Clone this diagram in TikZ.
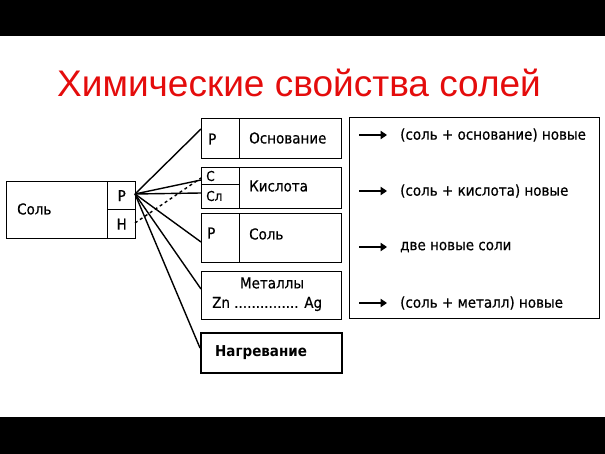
\documentclass[tikz,border=0pt]{standalone}
\usepackage{fontspec}
\setmainfont{DejaVu Sans Condensed}[FakeBold=0.6]
\newfontfamily\boldfont{DejaVu Sans Condensed Bold}
\newfontfamily\titlefont{Liberation Sans}
\usetikzlibrary{arrows.meta}
\definecolor{titlered}{RGB}{228,12,12}
\begin{document}
\begin{tikzpicture}[x=1pt,y=-1pt,
  box/.style={draw, line width=1.4pt, rectangle, inner sep=0pt, anchor=north west},
  lbl/.style={font=\fontsize{15}{17}\selectfont, inner sep=0pt, anchor=west},
  link/.style={line width=1.4pt},
  arr/.style={line width=1.2pt, -{Triangle[length=6.5pt,width=8.5pt]}},
]
\useasboundingbox (0,0) rectangle (605,454);
\fill[black] (0,0) rectangle (605,36);
\fill[black] (0,417) rectangle (605,454);
\node[font=\titlefont\fontsize{37}{40}\selectfont, text=titlered, anchor=base, inner sep=0pt] (title) at (299,97) {Химические свойства солей};

% left salt box
\node[box, minimum width=101pt, minimum height=57pt] (salt) at (6,181) {};
\node[box, minimum width=28pt, minimum height=28pt] (sp) at (107,181) {};
\node[box, minimum width=28pt, minimum height=29pt] (sh) at (107,209) {};
\node[lbl] (saltt) at (17,209) {Соль};
\node[lbl, anchor=center] (spt) at (sp.center) {Р};
\node[lbl, anchor=center] (sht) at (sh.center) {Н};

% box 1
\node[box, minimum width=140pt, minimum height=40pt] (b1) at (201,118) {};
\node[box, minimum width=38pt, minimum height=40pt] (b1l) at (201,118) {};
\node[lbl] (b1p) at (208,139) {Р};
\node[lbl] (b1t) at (249,138) {Основание};

% box 2
\node[box, minimum width=140pt, minimum height=41pt] (b2) at (201,167) {};
\node[box, minimum width=38pt, minimum height=17pt] (b2a) at (201,167) {};
\node[box, minimum width=38pt, minimum height=24pt] (b2b) at (201,184) {};
\node[lbl, font=\fontsize{13.5}{15}\selectfont] (b2at) at (206,176) {С};
\node[lbl, font=\fontsize{13.5}{15}\selectfont] (b2bt) at (206,196) {Сл};
\node[lbl] (b2t) at (249,186) {Кислота};

% box 3
\node[box, minimum width=140pt, minimum height=49pt] (b3) at (201,213) {};
\node[box, minimum width=38pt, minimum height=49pt] (b3l) at (201,213) {};
\node[lbl] (b3p) at (207,233) {Р};
\node[lbl] (b3t) at (249,234) {Соль};

% box 4
\node[box, minimum width=140pt, minimum height=48pt] (b4) at (201,271) {};
\node[lbl, anchor=center] (b4t) at (272,283) {Металлы};
\node[lbl] (b4z) at (212,304) {Zn ............... Ag};

% box 5
\node[box, line width=2pt, minimum width=141pt, minimum height=40pt] (b5) at (200,332) {};
\node[lbl, font=\boldfont\fontsize{15}{17}\selectfont] (b5t) at (215,353) {Нагревание};

% right box
\node[box, minimum width=250pt, minimum height=201pt] (res) at (349,117) {};
\coordinate (a1s) at (359,135); \coordinate (a1e) at (387,135);
\coordinate (a2s) at (359,191); \coordinate (a2e) at (387,191);
\coordinate (a3s) at (359,247); \coordinate (a3e) at (387,247);
\coordinate (a4s) at (359,303); \coordinate (a4e) at (387,303);
\draw[arr] (a1s) -- (a1e);
\draw[arr] (a2s) -- (a2e);
\draw[arr] (a3s) -- (a3e);
\draw[arr] (a4s) -- (a4e);
\node[lbl] (r1) at (400,135) {(соль + основание) новые};
\node[lbl] (r2) at (400,191) {(соль + кислота) новые};
\node[lbl] (r3) at (400,247) {две новые соли};
\node[lbl] (r4) at (400,303) {(соль + металл) новые};

% fan connectors
\coordinate (fan) at (135,194);
\coordinate (hd) at (135,223);
\coordinate (e1) at (201,129);
\coordinate (e2a) at (201,180);
\coordinate (e2b) at (201,193);
\coordinate (e2d) at (201,178);
\coordinate (e3) at (201,242);
\coordinate (e4) at (201,289);
\coordinate (e5) at (200,348);
\draw[link] (fan) -- (e1);
\draw[link] (fan) -- (e2a);
\draw[link] (fan) -- (e2b);
\draw[link] (fan) -- (e3);
\draw[link] (fan) -- (e4);
\draw[link] (fan) -- (e5);
\draw[link, dashed] (hd) -- (e2d);
\end{tikzpicture}
\end{document}
